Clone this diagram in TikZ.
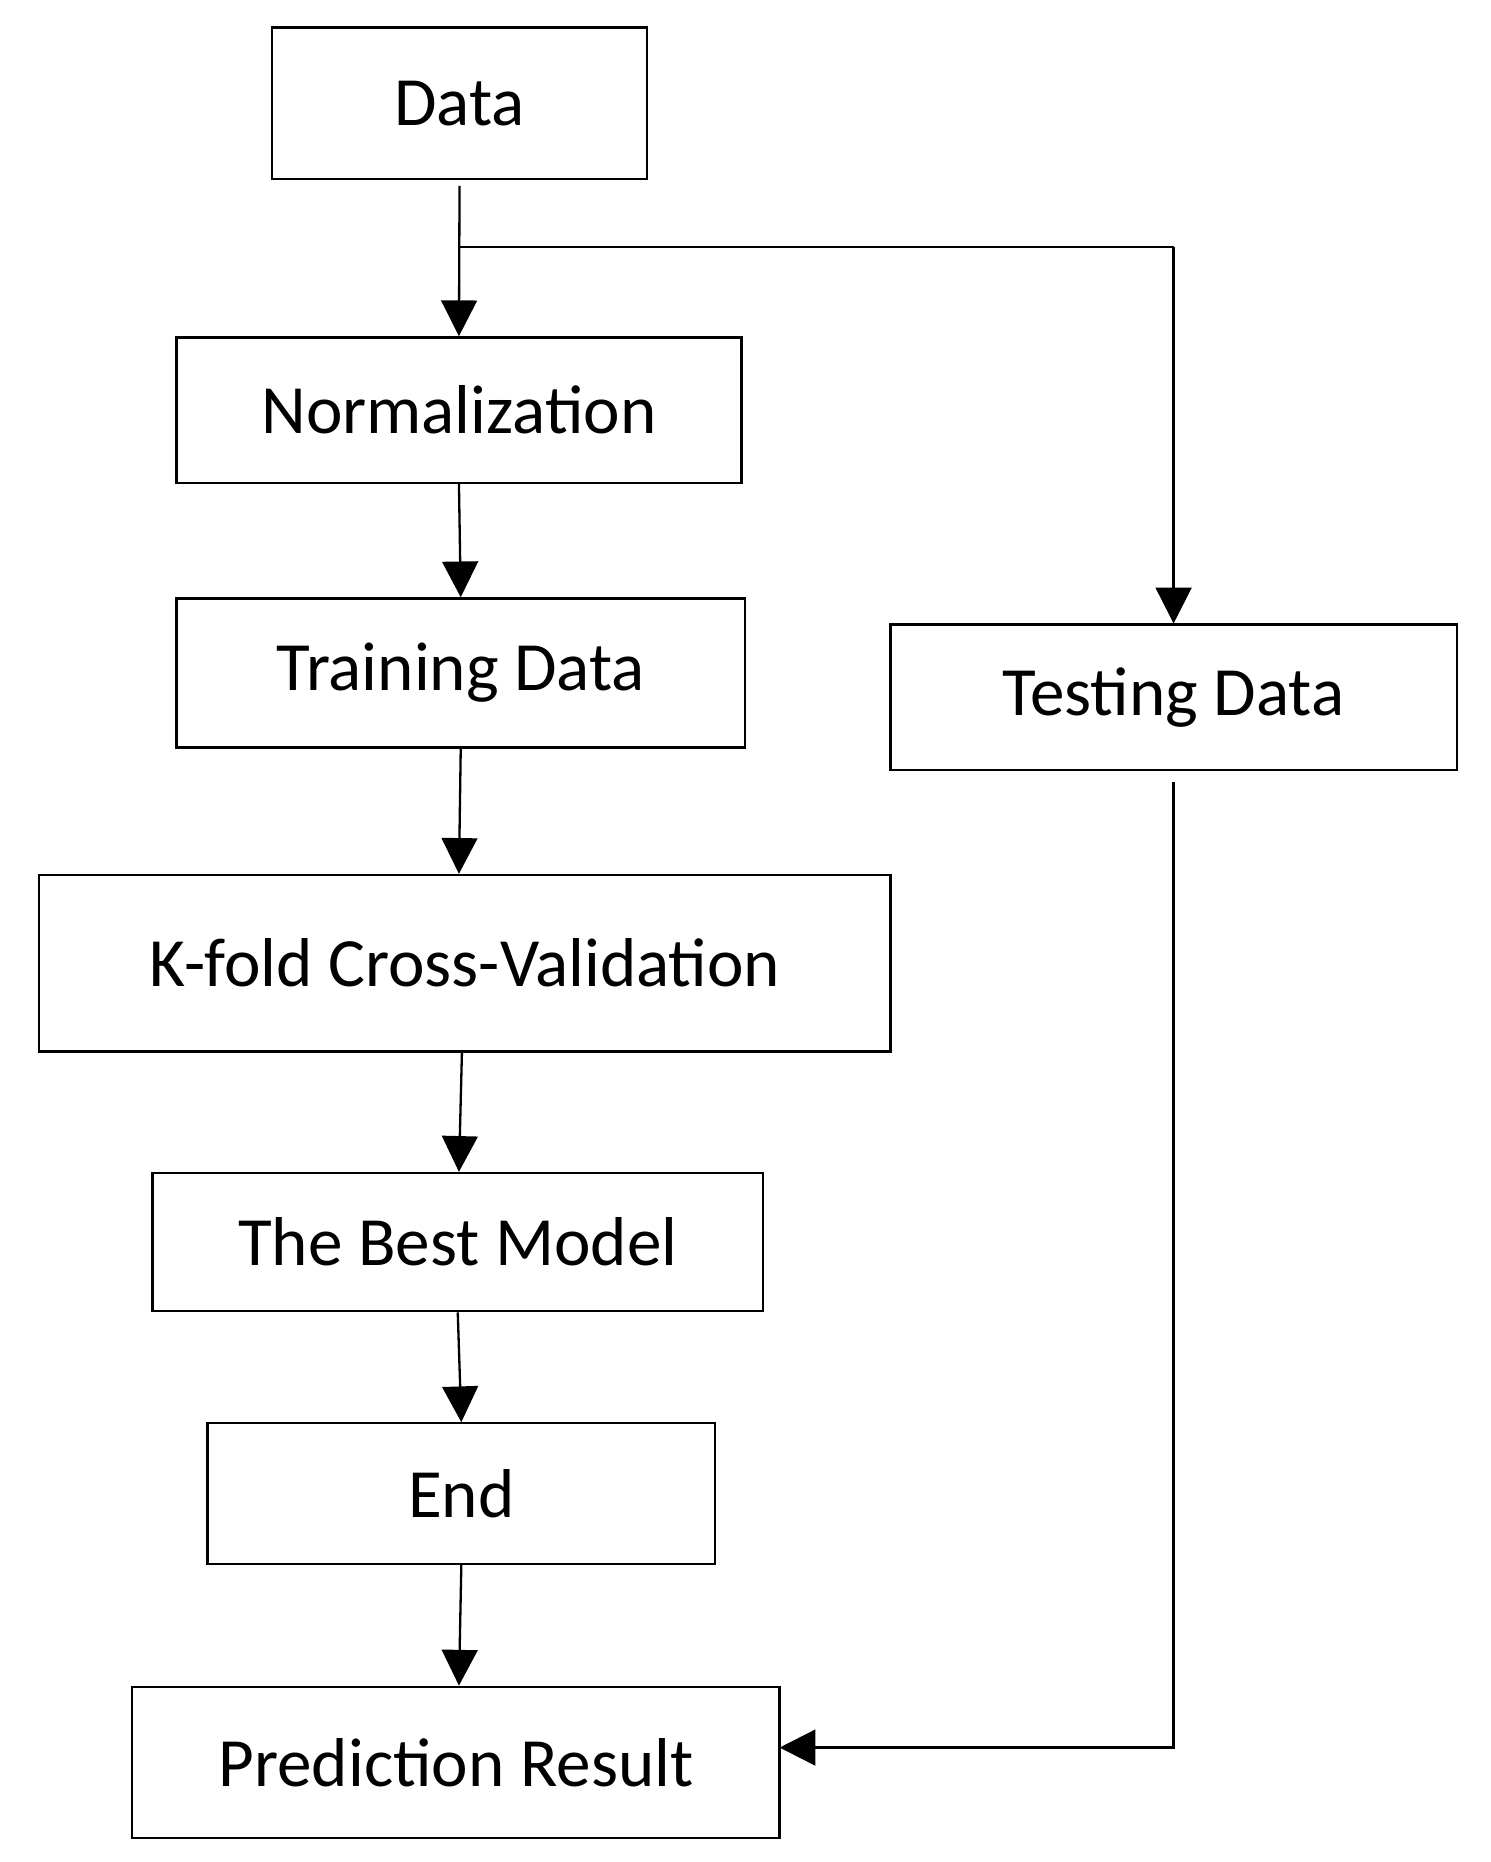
\documentclass[tikz,border=0pt]{standalone}
\usepackage{fontspec}
\setmainfont{Carlito}
\usetikzlibrary{arrows.meta}
\begin{document}
\begin{tikzpicture}[
  box/.style={draw, line width=1.1pt, inner sep=0pt, font=\fontsize{33}{38}\selectfont},
  arr/.style={line width=1.1pt, -{Triangle[length=0.6cm,width=0.6cm]}}]
\useasboundingbox (0,0) rectangle (25,-31.24);
\node[box, minimum width=6.3cm, minimum height=2.54cm] (data) at (7.71,-1.73) {Data};
\node[box, minimum width=9.48cm, minimum height=2.44cm] (norm) at (7.70,-6.88) {Normalization};
\node[box, minimum width=9.54cm, minimum height=2.5cm] (train) at (7.73,-11.29) {Training Data};
\node[box, minimum width=9.5cm, minimum height=2.44cm] (test) at (19.69,-11.70) {Testing Data};
\node[box, minimum width=14.28cm, minimum height=2.96cm] (kfold) at (7.80,-16.16) {K-fold Cross-Validation};
\node[box, minimum width=10.24cm, minimum height=2.32cm] (best) at (7.68,-20.84) {The Best Model};
\node[box, minimum width=8.52cm, minimum height=2.36cm] (end) at (7.74,-25.06) {End};
\node[box, minimum width=10.86cm, minimum height=2.54cm] (pred) at (7.65,-29.57) {Prediction Result};
\coordinate (br) at (7.71,-4.14);
\coordinate (brr) at (19.69,-4.14);
\coordinate (tin) at (13.08,-29.32);
\draw[arr] ([yshift=-0.1cm]data.south) -- (norm.north);
\draw[line width=1.1pt] (br) -- (brr);
\draw[arr] (brr) -- (test.north);
\draw[arr] (norm.south) -- (train.north);
\draw[arr] (train.south) -- ([xshift=-0.1cm]kfold.north);
\draw[arr] ([xshift=-0.05cm]kfold.south) -- ([xshift=0.02cm]best.north);
\draw[arr] (best.south) -- (end.north);
\draw[arr] (end.south) -- ([xshift=0.05cm]pred.north);
\draw[arr] ([yshift=-0.18cm]test.south) |- (tin);
\end{tikzpicture}
\end{document}
